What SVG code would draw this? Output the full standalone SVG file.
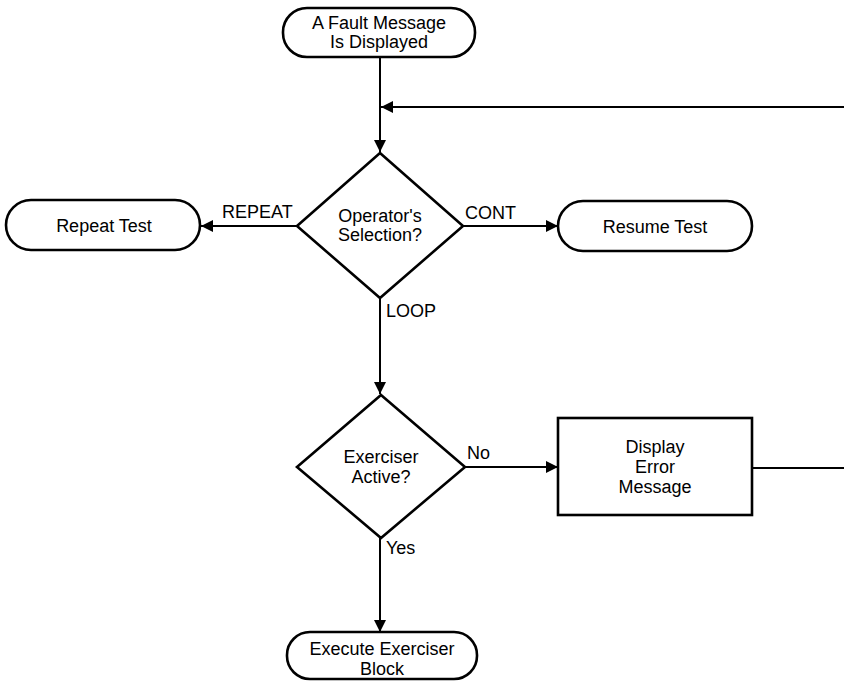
<svg xmlns="http://www.w3.org/2000/svg" width="844" height="681" viewBox="0 0 844 681">
<defs>
<marker id="arr" viewBox="0 0 10 10" refX="10" refY="5" markerWidth="12" markerHeight="12" markerUnits="userSpaceOnUse" orient="auto">
<path d="M0,0 L10,5 L0,10 z" fill="#000"/>
</marker>
<style>
.shape{fill:#fff;stroke:#000;stroke-width:2.6}
.conn{fill:none;stroke:#000;stroke-width:2}
text{font-family:"Liberation Sans",Arial,sans-serif;font-size:18px;fill:#000}
.c{text-anchor:middle}
</style>
</defs>
<rect width="844" height="681" fill="#fff"/>
<g id="connectors">
<line class="conn" x1="380" y1="57" x2="380" y2="152" marker-end="url(#arr)"/>
<line class="conn" x1="844" y1="107" x2="381" y2="107" marker-end="url(#arr)"/>
<line class="conn" x1="297" y1="226" x2="201" y2="226" marker-end="url(#arr)"/>
<line class="conn" x1="463" y1="226" x2="558" y2="226" marker-end="url(#arr)"/>
<line class="conn" x1="380" y1="298" x2="380" y2="394" marker-end="url(#arr)"/>
<line class="conn" x1="465" y1="467" x2="558" y2="467" marker-end="url(#arr)"/>
<line class="conn" x1="752" y1="468" x2="844" y2="468"/>
<line class="conn" x1="380" y1="538" x2="380" y2="632" marker-end="url(#arr)"/>
<text x="222" y="218">REPEAT</text>
<text x="465" y="219">CONT</text>
<text x="386" y="317">LOOP</text>
<text x="467" y="459">No</text>
<text x="386" y="554">Yes</text>
</g>
<g id="start">
<rect class="shape" x="283" y="8" width="192" height="49" rx="24" ry="24"/>
<text class="c" x="379" y="29">A Fault Message</text>
<text class="c" x="379" y="48">Is Displayed</text>
</g>
<g id="operator">
<polygon class="shape" points="380,153 463,226 380,298 297,226"/>
<text class="c" x="380" y="222">Operator's</text>
<text class="c" x="380" y="241">Selection?</text>
</g>
<g id="repeat">
<rect class="shape" x="6" y="200" width="194" height="50" rx="25" ry="25"/>
<text class="c" x="104" y="232">Repeat Test</text>
</g>
<g id="resume">
<rect class="shape" x="558" y="201" width="194" height="50" rx="25" ry="25"/>
<text class="c" x="655" y="233">Resume Test</text>
</g>
<g id="exerciser">
<polygon class="shape" points="381,395 465,467 381,538 297,467"/>
<text class="c" x="381" y="463">Exerciser</text>
<text class="c" x="381" y="483">Active?</text>
</g>
<g id="error">
<rect class="shape" x="558" y="418" width="194" height="97"/>
<text class="c" x="655" y="453">Display</text>
<text class="c" x="655" y="473">Error</text>
<text class="c" x="655" y="493">Message</text>
</g>
<g id="execute">
<rect class="shape" x="287" y="632" width="190" height="47" rx="23" ry="23"/>
<text class="c" x="382" y="655">Execute Exerciser</text>
<text class="c" x="382" y="675">Block</text>
</g>
</svg>
